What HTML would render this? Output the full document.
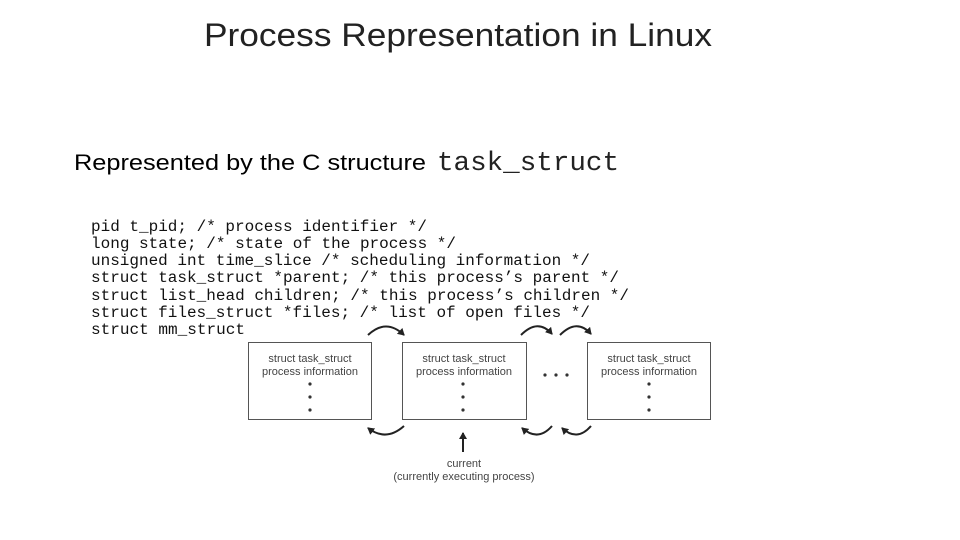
<!DOCTYPE html>
<html><head><meta charset="utf-8"><style>
html,body{margin:0;padding:0;background:#fff;}
svg{display:block;}
</style></head><body>
<svg width="960" height="540" viewBox="0 0 960 540" xmlns="http://www.w3.org/2000/svg">
<defs>
<marker id="ah" markerWidth="8" markerHeight="8" refX="6" refY="4" orient="auto" markerUnits="userSpaceOnUse">
<path d="M0,0 L7,4 L0,8 Z" fill="#222"/>
</marker>
</defs>
<rect width="960" height="540" fill="#fff"/>
<text x="204" y="46" font-family="Liberation Sans, sans-serif" font-size="32" fill="#222" textLength="508" lengthAdjust="spacingAndGlyphs">Process Representation in Linux</text>
<text x="74" y="170" font-family="Liberation Sans, sans-serif" font-size="22" fill="#000" textLength="352" lengthAdjust="spacingAndGlyphs">Represented by the C structure</text>
<text x="437" y="170" font-family="Liberation Mono, monospace" font-size="27" fill="#222" textLength="182" lengthAdjust="spacingAndGlyphs">task_struct</text>
<g font-family="Liberation Mono, monospace" font-size="15.5" fill="#111" xml:space="preserve">
<text x="91" y="231" textLength="336" lengthAdjust="spacingAndGlyphs">pid t_pid; /* process identifier */</text>
<text x="91" y="248" textLength="365" lengthAdjust="spacingAndGlyphs">long state; /* state of the process */</text>
<text x="91" y="265" textLength="499" lengthAdjust="spacingAndGlyphs">unsigned int time_slice /* scheduling information */</text>
<text x="91" y="282" textLength="528" lengthAdjust="spacingAndGlyphs">struct task_struct *parent; /* this process’s parent */</text>
<text x="91" y="300" textLength="538" lengthAdjust="spacingAndGlyphs">struct list_head children; /* this process’s children */</text>
<text x="91" y="317" textLength="499" lengthAdjust="spacingAndGlyphs">struct files_struct *files; /* list of open files */</text>
<text x="91" y="334" textLength="154" lengthAdjust="spacingAndGlyphs">struct mm_struct</text>
</g>
<g fill="none" stroke="#555" stroke-width="1">
<rect x="248.5" y="342.5" width="123" height="77"/>
<rect x="402.5" y="342.5" width="124" height="77"/>
<rect x="587.5" y="342.5" width="123" height="77"/>
</g>
<g font-family="Liberation Sans, sans-serif" font-size="11" fill="#444" text-anchor="middle">
<text x="310" y="362">struct task_struct</text>
<text x="310" y="375">process information</text>
<text x="464" y="362">struct task_struct</text>
<text x="464" y="375">process information</text>
<text x="649" y="362">struct task_struct</text>
<text x="649" y="375">process information</text>
</g>
<g fill="#333">
<circle cx="310" cy="384" r="1.6"/><circle cx="310" cy="397" r="1.6"/><circle cx="310" cy="410" r="1.6"/>
<circle cx="463" cy="384" r="1.6"/><circle cx="463" cy="397" r="1.6"/><circle cx="463" cy="410" r="1.6"/>
<circle cx="649" cy="384" r="1.6"/><circle cx="649" cy="397" r="1.6"/><circle cx="649" cy="410" r="1.6"/>
<circle cx="545" cy="375" r="1.6"/><circle cx="556" cy="375" r="1.6"/><circle cx="567" cy="375" r="1.6"/>
</g>
<g fill="none" stroke="#222" stroke-width="2">
<path d="M368,335 Q386,318 404,335" marker-end="url(#ah)"/>
<path d="M404,426 Q386,442 368,428" marker-end="url(#ah)"/>
<path d="M521,335 Q538,318 552,334" marker-end="url(#ah)"/>
<path d="M552,426 Q538,442 522,428" marker-end="url(#ah)"/>
<path d="M560,335 Q577,318 591,334" marker-end="url(#ah)"/>
<path d="M591,426 Q577,442 562,428" marker-end="url(#ah)"/>
<path d="M463,452 L463,433" marker-end="url(#ah)"/>
</g>
<g font-family="Liberation Sans, sans-serif" font-size="11" fill="#444" text-anchor="middle">
<text x="464" y="467">current</text>
<text x="464" y="480">(currently executing process)</text>
</g>
</svg>
</body></html>
